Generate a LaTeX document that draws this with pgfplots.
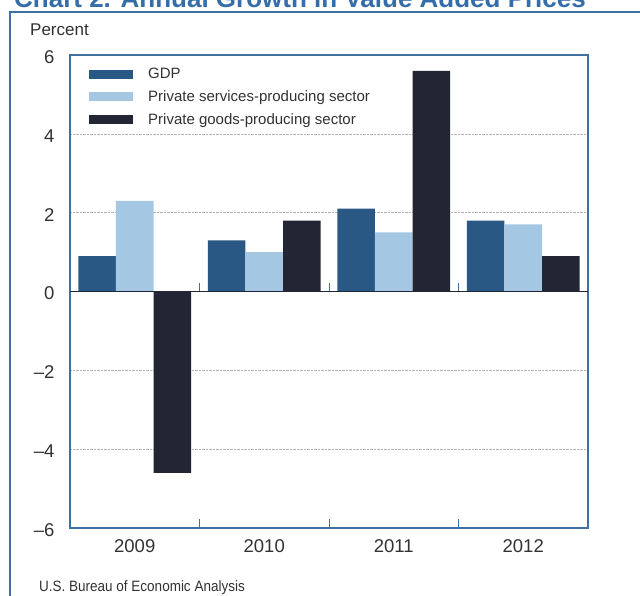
\documentclass[border=0pt]{standalone}
\usepackage{fontspec}
\setmainfont{Liberation Sans}
\newfontfamily\narrowfont[FakeStretch=0.9]{Liberation Sans}
\usepackage{pgfplots}
\pgfplotsset{compat=1.18}
\definecolor{gdpc}{RGB}{42,88,132}
\definecolor{servc}{RGB}{164,200,228}
\definecolor{goodc}{RGB}{34,37,52}
\definecolor{framec}{RGB}{62,112,160}
\definecolor{titlec}{RGB}{52,110,170}
\definecolor{textc}{RGB}{50,50,50}
\begin{document}
\begin{tikzpicture}
\clip (0pt,0pt) rectangle (640pt,596pt);
\fill[white] (0pt,0pt) rectangle (640pt,596pt);
\draw[framec, line width=2pt] (10pt,-20pt) -- (10pt,584pt) -- (660pt,584pt);
\node[anchor=base west, inner sep=0pt, text=titlec, font=\fontsize{26}{30}\selectfont\bfseries] at (14pt,588pt) {Chart 2. Annual Growth in Value Added Prices};
\node[anchor=west, inner sep=0pt, text=textc, font=\fontsize{17}{20}\selectfont] at (30pt,566pt) {Percent};
\node[anchor=west, inner sep=0pt, text=textc, font=\narrowfont\fontsize{15}{18}\selectfont] at (39pt,8pt) {U.S. Bureau of Economic Analysis};
\begin{axis}[
  at={(70pt,68pt)}, anchor=south west,
  scale only axis, width=518pt, height=473pt,
  ybar=0pt, bar width=0.29,
  xmin=-0.5, xmax=3.5, ymin=-6, ymax=6,
  xtick={0,1,2,3}, xticklabels={2009,2010,2011,2012},
  ytick={-6,-4,-2,0,2,4,6},
  yticklabels={\textendash6,\textendash4,\textendash2,0,2,4,6},
  major tick length=0pt,
  ymajorgrids, grid style={densely dotted, gray!60, line width=0.6pt},
  axis line style={draw=framec, line width=2pt},
  tick label style={text=textc, font=\fontsize{18.5}{22}\selectfont},
  yticklabel style={xshift=-12pt, yshift=-2pt},
  xticklabel style={yshift=-8pt},
  legend style={draw=none, fill=none, at={(0,1)}, anchor=north west, xshift=16pt, yshift=-10pt,
    font=\fontsize{15}{18}\selectfont, text=textc, row sep=8.5pt, column sep=14pt,
    nodes={inner sep=1pt, anchor=west}},
  legend cell align=left,
  legend image code/.code={\fill[#1] (0pt,-4.5pt) rectangle (44pt,4.5pt);},
  clip=false,
]
\addplot[fill=gdpc, draw=none] coordinates {(0,0.9) (1,1.3) (2,2.1) (3,1.8)};
\addplot[fill=servc, draw=none] coordinates {(0,2.3) (1,1.0) (2,1.5) (3,1.7)};
\addplot[fill=goodc, draw=none] coordinates {(0,-4.6) (1,1.8) (2,5.6) (3,0.9)};
\legend{GDP, Private services-producing sector, Private goods-producing sector}
\draw[goodc, line width=1.2pt] (axis cs:-0.5,0) -- (axis cs:3.5,0);
\draw[framec, line width=0.8pt] (axis cs:0.5,0) -- ([yshift=8pt]axis cs:0.5,0);
\draw[framec, line width=0.8pt] (axis cs:1.5,0) -- ([yshift=8pt]axis cs:1.5,0);
\draw[framec, line width=0.8pt] (axis cs:2.5,0) -- ([yshift=8pt]axis cs:2.5,0);
\draw[framec, line width=0.8pt] (axis cs:0.5,-6) -- ([yshift=9pt]axis cs:0.5,-6);
\draw[framec, line width=0.8pt] (axis cs:1.5,-6) -- ([yshift=9pt]axis cs:1.5,-6);
\draw[framec, line width=0.8pt] (axis cs:2.5,-6) -- ([yshift=9pt]axis cs:2.5,-6);
\end{axis}
\end{tikzpicture}
\end{document}
